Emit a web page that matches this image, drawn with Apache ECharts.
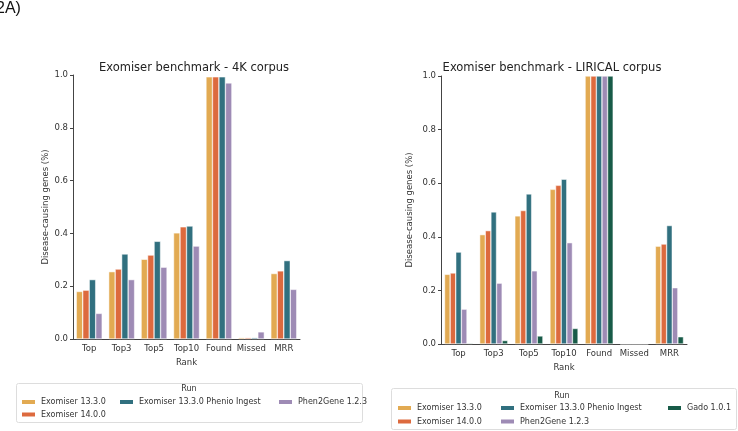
<!DOCTYPE html>
<html><head><meta charset="utf-8">
<script src="https://cdn.jsdelivr.net/npm/echarts@6/dist/echarts.min.js"></script>
<style>html,body{margin:0;padding:0;background:#fff}#c{width:738px;height:431px}</style>
</head><body><div id="c"></div>
<script>
const categories = ['Top','Top3','Top5','Top10','Found','Missed','MRR'];
const runNames = ['Exomiser 13.3.0','Exomiser 14.0.0','Exomiser 13.3.0 Phenio Ingest','Phen2Gene 1.2.3','Gado 1.0.1'];
const colors = ['#e2aa52','#dd6a3e','#31707f','#9e8bb5','#185b48'];
// 4K corpus
const k4_exo1330 = [0.180,0.255,0.302,0.402,0.993,0.005,0.248];
const k4_exo1400 = [0.185,0.265,0.318,0.425,0.993,0.005,0.258];
const k4_phenio  = [0.225,0.322,0.370,0.428,0.993,0.005,0.297];
const k4_phen2   = [0.097,0.225,0.272,0.352,0.970,0.027,0.188];
// LIRICAL corpus
const lr_exo1330 = [0.260,0.408,0.478,0.577,1.0,0,0.365];
const lr_exo1400 = [0.265,0.423,0.498,0.592,1.0,0,0.373];
const lr_phenio  = [0.343,0.493,0.560,0.615,1.0,0,0.442];
const lr_phen2   = [0.130,0.227,0.273,0.378,1.0,0,0.210];
const lr_gado    = [0.003,0.013,0.030,0.058,1.0,0,0.027];
const yTicks = [0,0.2,0.4,0.6,0.8,1.0];

const font = 'DejaVu Sans';
const txt = '#333';
function xAx(gi){return {type:'category',gridIndex:gi,data:categories,name:'Rank',nameLocation:'middle',nameGap:19,
  nameTextStyle:{fontFamily:font,fontSize:8.5,color:txt},
  axisLine:{lineStyle:{color:'#444',width:1}},axisTick:{alignWithLabel:true,length:3,lineStyle:{color:'#444'}},
  axisLabel:{fontFamily:font,fontSize:8.5,color:txt,margin:5,interval:0}};}
function yAx(gi,gap){return {type:'value',gridIndex:gi,min:yTicks[0],max:yTicks[yTicks.length-1],interval:0.2,name:'Disease-causing genes (%)',nameLocation:'middle',nameGap:gap,
  nameTextStyle:{fontFamily:font,fontSize:8.5,color:txt},
  axisLine:{show:true,lineStyle:{color:'#444',width:1}},axisTick:{show:true,length:3,lineStyle:{color:'#444'}},splitLine:{show:false},
  axisLabel:{fontFamily:font,fontSize:8.5,color:txt,margin:5,formatter:v=>v.toFixed(1)}};}
function bar(name,data,gi,ci){return {type:'bar',name:name,data:data,xAxisIndex:gi,yAxisIndex:gi,barGap:'0%',barCategoryGap:'20%',
  itemStyle:{color:colors[ci],borderColor:'#fff',borderWidth:0.5},emphasis:{disabled:true}};}

const chart = echarts.init(document.getElementById('c'),null,{renderer:'canvas'});
function leg(names,left,top,gap){return {data:names,left:left,top:top,padding:0,itemWidth:15,itemHeight:6,itemGap:gap,orient:'vertical',
  textStyle:{fontFamily:font,fontSize:8,color:txt,lineHeight:10},icon:'rect',selectedMode:false};}
chart.setOption({
  animation:false,
  textStyle:{fontFamily:font},
  title:[
    {text:'Exomiser benchmark - 4K corpus',left:189,top:57,textAlign:'center',textStyle:{fontFamily:font,fontSize:11.5,fontWeight:'normal',color:'#222'}},
    {text:'Exomiser benchmark - LIRICAL corpus',left:547,top:57,textAlign:'center',textStyle:{fontFamily:font,fontSize:11.5,fontWeight:'normal',color:'#222'}}
  ],
  grid:[
    {left:73,right:438,top:75,bottom:92},
    {left:441,right:51,top:76,bottom:87}
  ],
  xAxis:[xAx(0),xAx(1)],
  yAxis:[yAx(0,23),yAx(1,27)],
  legend:[
    leg([runNames[0],runNames[1]],20,397,2.5),
    leg([runNames[2]],118,397,2.5),
    leg([runNames[3]],277,397,2.5),
    leg([runNames[0],runNames[1]],396,403,3.5),
    leg([runNames[2],runNames[3]],499,403,3.5),
    leg([runNames[4]],666,403,3.5)
  ],
  graphic:[
    {type:'text',left:-4,top:1,style:{text:'2A)',fontFamily:'Liberation Sans',fontSize:16,fill:'#111'}},
    {type:'rect',shape:{x:16.5,y:383.5,width:346,height:39,r:2},style:{fill:'none',stroke:'#ddd',lineWidth:1},z:-1},
    {type:'text',x:189,y:385,style:{text:'Run',fontFamily:font,fontSize:8,fill:txt,textAlign:'center'}},
    {type:'rect',shape:{x:391.5,y:388.5,width:345,height:41,r:2},style:{fill:'none',stroke:'#ddd',lineWidth:1},z:-1},
    {type:'text',x:562,y:392,style:{text:'Run',fontFamily:font,fontSize:8,fill:txt,textAlign:'center'}}
  ],
  series:[
    bar(runNames[0],k4_exo1330,0,0),
    bar(runNames[1],k4_exo1400,0,1),
    bar(runNames[2],k4_phenio,0,2),
    bar(runNames[3],k4_phen2,0,3),
    bar(runNames[0],lr_exo1330,1,0),
    bar(runNames[1],lr_exo1400,1,1),
    bar(runNames[2],lr_phenio,1,2),
    bar(runNames[3],lr_phen2,1,3),
    bar(runNames[4],lr_gado,1,4)
  ]
});
</script></body></html>
